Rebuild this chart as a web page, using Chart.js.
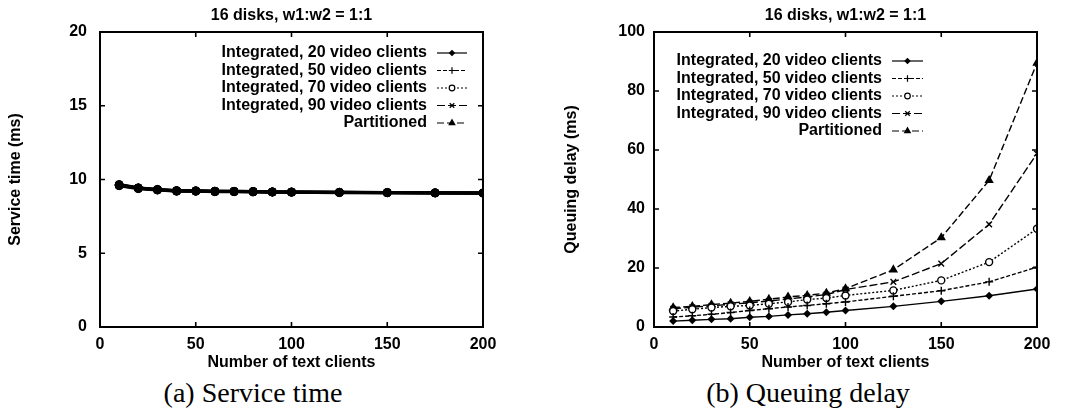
<!DOCTYPE html>
<html>
<head>
<meta charset="utf-8">
<script src="https://cdn.jsdelivr.net/npm/chart.js@4.4.1/dist/chart.umd.min.js"></script>
<style>
  html, body { margin: 0; padding: 0; background: #fff; }
  #wrap { position: relative; width: 1072px; height: 416px; overflow: hidden; }
  .panel { position: absolute; top: 0; height: 375px; }
  .cap { position: absolute; top: 377px; font: 28px 'Liberation Serif', 'Times New Roman', serif; color: #000; transform: translateX(-50%); white-space: nowrap; }
</style>
</head>
<body>
<div id="wrap">
  <div class="panel" style="left:0;width:540px"><canvas id="svc"></canvas></div>
  <div class="panel" style="left:540px;width:532px"><canvas id="queue"></canvas></div>
  <div class="cap" style="left:253px">(a) Service time</div>
  <div class="cap" style="left:808px">(b) Queuing delay</div>
</div>
<script>
// Number of text clients
const textClients = [10, 20, 30, 40, 50, 60, 70, 80, 90, 100, 125, 150, 175, 200];

// Series names
const seriesNames = [
  'Integrated, 20 video clients',
  'Integrated, 50 video clients',
  'Integrated, 70 video clients',
  'Integrated, 90 video clients',
  'Partitioned'
];

// Service time (ms)
const svc20   = [9.58, 9.38, 9.28, 9.20, 9.20, 9.17, 9.17, 9.16, 9.14, 9.13, 9.11, 9.10, 9.08, 9.07];
const svc50   = [9.60, 9.40, 9.30, 9.22, 9.21, 9.19, 9.18, 9.17, 9.15, 9.14, 9.12, 9.11, 9.09, 9.08];
const svc70   = [9.63, 9.42, 9.31, 9.23, 9.22, 9.20, 9.19, 9.18, 9.16, 9.15, 9.13, 9.11, 9.10, 9.09];
const svc90   = [9.66, 9.44, 9.33, 9.25, 9.24, 9.21, 9.20, 9.19, 9.17, 9.16, 9.13, 9.12, 9.10, 9.09];
const svcPart = [9.64, 9.43, 9.32, 9.24, 9.23, 9.20, 9.20, 9.18, 9.16, 9.15, 9.13, 9.12, 9.10, 9.09];

// Queuing delay (ms)
const q20   = [2.0, 2.3, 2.6, 2.8, 3.3, 3.6, 4.1, 4.5, 5.0, 5.6, 7.0, 8.7, 10.6, 12.9];
const q50   = [3.4, 3.8, 4.3, 4.9, 5.6, 6.2, 6.8, 7.3, 7.9, 8.5, 10.4, 12.3, 15.3, 20.3];
const q70   = [5.4, 6.0, 6.6, 7.0, 7.3, 7.9, 8.5, 9.3, 9.8, 10.7, 12.4, 15.8, 22.0, 33.3];
const q90   = [6.2, 6.7, 7.2, 7.7, 8.2, 8.8, 9.5, 10.2, 11.0, 12.7, 15.3, 21.5, 34.8, 58.8];
const qPart = [6.6, 7.0, 7.6, 8.1, 8.7, 9.4, 10.2, 10.7, 11.5, 13.0, 19.4, 30.3, 49.7, 89.5];

// Axis ticks
const xTicks = [0, 50, 100, 150, 200];
const svcTicks = [0, 5, 10, 15, 20];
const queueTicks = [0, 20, 40, 60, 80, 100];

const FONT = "'Liberation Sans', Arial, Helvetica, sans-serif";
Chart.defaults.font.family = FONT;
Chart.defaults.color = '#000';

// Line style per series: solid/dot, dashed/plus, dotted/circle, dash/cross, dashed/triangle
const styles = [
  { dash: [],     point: 'rectRot',  r: 3,   fill: '#000' },
  { dash: [4, 2], point: 'cross',    r: 4,   fill: '#000' },
  { dash: [2, 2], point: 'circle',   r: 3.5, fill: '#fff' },
  { dash: [8, 3], point: 'crossRot', r: 4,   fill: '#000' },
  { dash: [7, 3], point: 'triangle', r: 4,   fill: '#000' }
];

// Heavy variant: thick lines with solid round dots
function makeHeavyDatasets(seriesList) {
  return seriesList.map((vals, i) => ({
    label: seriesNames[i],
    data: textClients.map((x, k) => ({ x: x, y: vals[k] })),
    borderColor: '#000',
    backgroundColor: '#000',
    borderWidth: 3,
    borderDash: [],
    pointStyle: 'circle',
    pointRadius: 4,
    pointBorderWidth: 1,
    pointBackgroundColor: '#000',
    pointBorderColor: '#000',
    tension: 0
  }));
}

function makeDatasets(seriesList) {
  return seriesList.map((vals, i) => ({
    label: seriesNames[i],
    data: textClients.map((x, k) => ({ x: x, y: vals[k] })),
    borderColor: '#000',
    backgroundColor: styles[i].fill,
    borderWidth: 1.4,
    borderDash: styles[i].dash,
    pointStyle: styles[i].point,
    pointRadius: styles[i].r,
    pointBorderWidth: 1.4,
    pointBackgroundColor: styles[i].fill,
    pointBorderColor: '#000',
    tension: 0
  }));
}

// Frame with inward ticks on all four sides, plus centred chart title
const framePlugin = {
  id: 'frame',
  afterDatasetsDraw(chart, args, opts) {
    const { ctx, chartArea: a, scales } = chart;
    ctx.save();
    ctx.strokeStyle = '#000';
    ctx.setLineDash([]);
    ctx.lineWidth = 1.6;
    const tl = 5;
    ctx.beginPath();
    scales.x.ticks.forEach(t => {
      const px = scales.x.getPixelForValue(t.value);
      ctx.moveTo(px, a.bottom); ctx.lineTo(px, a.bottom - tl);
      ctx.moveTo(px, a.top); ctx.lineTo(px, a.top + tl);
    });
    scales.y.ticks.forEach(t => {
      const py = scales.y.getPixelForValue(t.value);
      ctx.moveTo(a.left, py); ctx.lineTo(a.left + tl, py);
      ctx.moveTo(a.right, py); ctx.lineTo(a.right - tl, py);
    });
    ctx.stroke();
    ctx.lineWidth = 2;
    ctx.strokeRect(a.left, a.top, a.right - a.left, a.bottom - a.top);
    ctx.fillStyle = '#000';
    ctx.font = 'bold 16px ' + FONT;
    ctx.textAlign = 'center';
    ctx.textBaseline = 'middle';
    ctx.fillText(opts.title, (a.left + a.right) / 2, 16);
    ctx.restore();
  }
};

// Key inside the plot: right-aligned labels followed by a line sample
const keyPlugin = {
  id: 'key',
  afterDatasetsDraw(chart, args, opts) {
    const { ctx } = chart;
    ctx.save();
    chart.data.datasets.forEach((ds, i) => {
      const y = opts.y0 + i * opts.dy;
      ctx.fillStyle = '#000';
      ctx.font = 'bold 16px ' + FONT;
      ctx.textAlign = 'right';
      ctx.textBaseline = 'middle';
      ctx.fillText(ds.label, opts.textRight, y);
      ctx.strokeStyle = '#000';
      ctx.lineWidth = 1.2;
      ctx.setLineDash(styles[i].dash);
      ctx.beginPath();
      ctx.moveTo(opts.s0, y); ctx.lineTo(opts.s1, y);
      ctx.stroke();
      ctx.setLineDash([]);
      ctx.fillStyle = styles[i].fill;
      ctx.lineWidth = 1.2;
      Chart.helpers.drawPoint(ctx, { pointStyle: styles[i].point, radius: styles[i].r * 0.8, rotation: 0, borderWidth: 1.2 }, (opts.s0 + opts.s1) / 2, y);
    });
    ctx.restore();
  }
};

function makeChart(id, cfg) {
  return new Chart(document.getElementById(id), {
    type: 'line',
    data: { datasets: cfg.datasets },
    options: {
      responsive: true,
      maintainAspectRatio: false,
      animation: false,
      layout: { padding: { top: 32, right: cfg.padRight, left: 0, bottom: 0 } },
      plugins: {
        legend: { display: false },
        tooltip: { enabled: false },
        frame: { title: '16 disks, w1:w2 = 1:1' },
        key: cfg.key
      },
      scales: {
        x: {
          type: 'linear', min: 0, max: 200,
          afterBuildTicks: s => { s.ticks = xTicks.map(v => ({ value: v })); },
          afterFit: s => { s.height = 48; },
          grid: { display: false },
          border: { display: false },
          ticks: { padding: 0, font: { size: 16, weight: 'bold' }, maxRotation: 0 },
          title: { display: true, text: 'Number of text clients', font: { size: 16, weight: 'bold' }, padding: { top: 0, bottom: 3 } }
        },
        y: {
          type: 'linear', min: 0, max: cfg.yMax,
          afterBuildTicks: s => { s.ticks = cfg.yTicks.map(v => ({ value: v })); },
          afterFit: s => { s.width = cfg.yWidth; },
          grid: { display: false },
          border: { display: false },
          ticks: { padding: cfg.yPad, font: { size: 16, weight: 'bold' } },
          title: { display: true, text: cfg.yTitle, font: { size: 16, weight: 'bold' }, padding: { top: cfg.yTitlePad, bottom: 0 } }
        }
      }
    },
    plugins: [framePlugin, keyPlugin]
  });
}

makeChart('svc', {
  datasets: makeHeavyDatasets([svc20, svc50, svc70, svc90, svcPart]),
  yMax: 20, yTicks: svcTicks, yWidth: 100, yPad: 5, yTitle: 'Service time (ms)', yTitlePad: 6,
  padRight: 57,
  key: { textRight: 427, s0: 437, s1: 467, y0: 53, dy: 17.5 }
});

makeChart('queue', {
  datasets: makeDatasets([q20, q50, q70, q90, qPart]),
  yMax: 100, yTicks: queueTicks, yWidth: 114, yPad: 1, yTitle: 'Queuing delay (ms)', yTitlePad: 22,
  padRight: 35,
  key: { textRight: 342, s0: 352, s1: 383, y0: 61, dy: 17.5 }
});
</script>
</body>
</html>
